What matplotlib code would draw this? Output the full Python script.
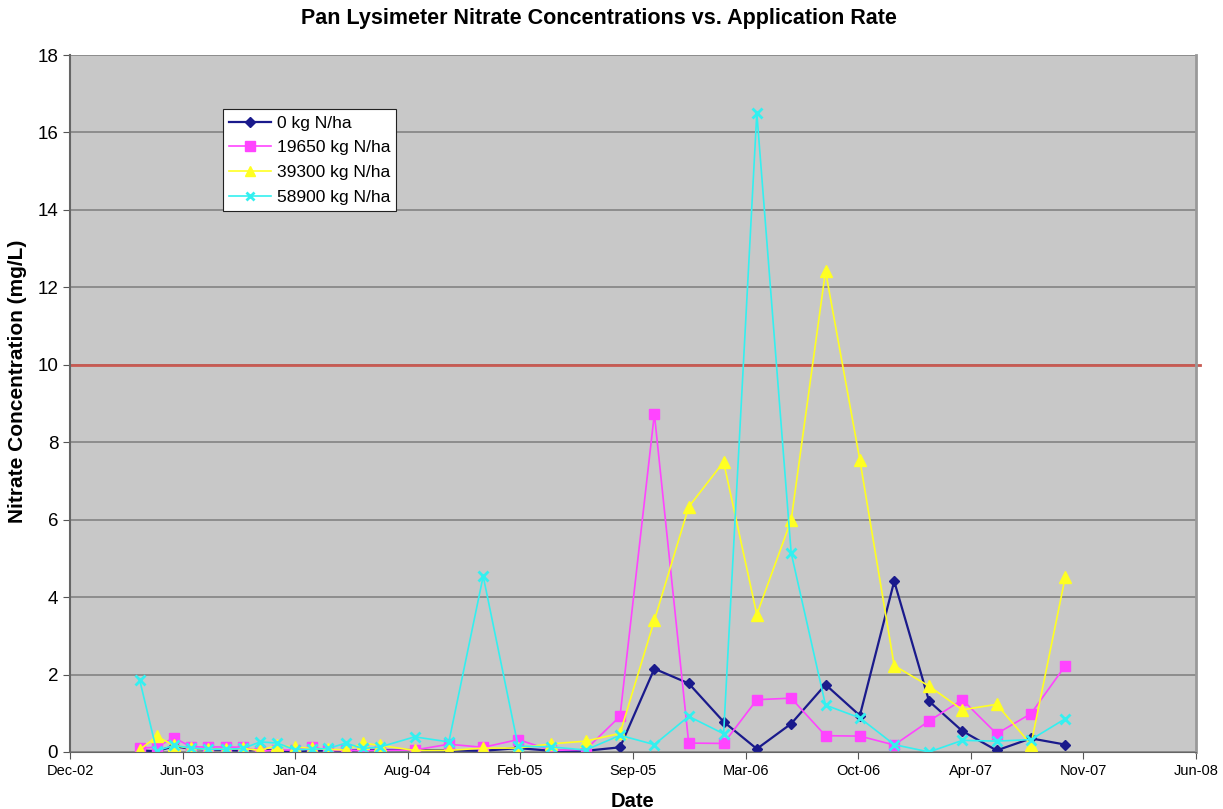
"""
Pan lysimeter nitrate concentrations vs. application rate
"""

import datetime as dt
import matplotlib
matplotlib.use('Agg')
import matplotlib.pyplot as plt
import matplotlib.dates as mdates

plt.rcParams['font.family'] = ['Liberation Sans', 'DejaVu Sans']

# sample months (mid-month): monthly Apr-03..Jun-04, then every 2 months Aug-04..Oct-07
months = ['2003-04', '2003-05', '2003-06', '2003-07', '2003-08', '2003-09', '2003-10',
          '2003-11', '2003-12', '2004-01', '2004-02', '2004-03', '2004-04', '2004-05',
          '2004-06', '2004-08', '2004-10', '2004-12', '2005-02', '2005-04', '2005-06',
          '2005-08', '2005-10', '2005-12', '2006-02', '2006-04', '2006-06', '2006-08',
          '2006-10', '2006-12', '2007-02', '2007-04', '2007-06', '2007-08', '2007-10']

rate_0 = [0.04, 0.02, 0.15, 0.08, 0.06, 0.05, 0.03, 0.06, 0.04, 0.0, 0.03, 0.04,
          0.03, 0.05, 0.05, 0.05, 0.04, 0.03, 0.1, 0.03, 0.03, 0.12, 2.15, 1.77,
          0.78, 0.08, 0.73, 1.74, 0.94, 4.41, 1.31, 0.54, 0.04, 0.35, 0.19]
rate_19650 = [0.09, 0.13, 0.37, 0.13, 0.13, 0.13, 0.12, 0.02, 0.05, 0.05, 0.13, 0.04,
              0.04, 0.04, 0.04, 0.05, 0.2, 0.12, 0.32, 0.04, 0.06, 0.92, 8.73, 0.23,
              0.22, 1.35, 1.39, 0.42, 0.41, 0.18, 0.8, 1.35, 0.47, 0.99, 2.23]
rate_39300 = [0.06, 0.4, 0.17, 0.09, 0.07, 0.07, 0.09, 0.04, 0.17, 0.13, 0.09, 0.07,
              0.05, 0.23, 0.17, 0.04, 0.04, 0.1, 0.1, 0.21, 0.28, 0.48, 3.4, 6.33,
              7.49, 3.55, 5.99, 12.42, 7.54, 2.23, 1.7, 1.09, 1.23, 0.19, 4.53]
rate_58900 = [1.85, 0.03, 0.17, 0.1, 0.07, 0.07, 0.09, 0.26, 0.23, 0.06, 0.07, 0.09,
              0.23, 0.09, 0.13, 0.39, 0.26, 4.54, 0.15, 0.13, 0.05, 0.43, 0.19, 0.92,
              0.47, 16.5, 5.14, 1.21, 0.88, 0.19, 0.0, 0.3, 0.28, 0.32, 0.86]

labels = ['0 kg N/ha', '19650 kg N/ha', '39300 kg N/ha', '58900 kg N/ha']
limit = 10  # drinking water standard

dates = [dt.datetime.strptime(m + '-15', '%Y-%m-%d') for m in months]
x_start = dt.datetime(2002, 12, 12)
x_ticks = [x_start + dt.timedelta(days=200 * i) for i in range(11)]

fig = plt.figure(figsize=(12.23, 8.09), dpi=100)
ax = fig.add_axes([0.0572, 0.0705, 0.9207, 0.8615])
ax.set_facecolor('#C8C8C8')

ax.axhline(limit, xmin=0, xmax=1.004, color='#C85A52', lw=2, clip_on=False, zorder=1.5)

ax.plot(dates, rate_0, color='#1A1A8C', marker='D', markersize=5.5, lw=1.6, label=labels[0])
ax.plot(dates, rate_19650, color='#FF44FF', marker='s', markersize=7.5, lw=1.2, label=labels[1])
ax.plot(dates, rate_39300, color='#FFFF22', marker='^', markersize=8.5, lw=1.2, label=labels[2])
ax.plot(dates, rate_58900, color='#33F0F0', marker='x', markersize=7, mew=2, lw=1.2, label=labels[3])

ax.set_xlim(x_ticks[0], x_ticks[-1])
ax.set_ylim(0, 18)
ax.set_yticks(range(0, 19, 2))
ax.set_xticks(x_ticks)
ax.xaxis.set_major_formatter(mdates.DateFormatter('%b-%y'))
ax.grid(True, axis='y', color='#888888', lw=1.3)
ax.set_axisbelow(True)
ax.tick_params(length=5, color='#555555')
ax.tick_params(axis='x', labelsize=10.5)
ax.tick_params(axis='y', labelsize=13.5)

ax.spines['top'].set_visible(False)
ax.spines['left'].set_color('#666666')
ax.spines['left'].set_linewidth(1.5)
ax.spines['bottom'].set_color('#666666')
ax.spines['right'].set_color('#999999')
ax.spines['right'].set_linewidth(2)

fig.text(0.49, 0.977, 'Pan Lysimeter Nitrate Concentrations vs. Application Rate',
         fontsize=15.5, fontweight='bold', ha='center', va='center')
ax.set_xlabel('Date', fontsize=14.5, fontweight='bold', labelpad=10)
ax.set_ylabel('Nitrate Concentration (mg/L)', fontsize=15, fontweight='bold')
ax.yaxis.set_label_coords(-0.038, 0.532)

leg = ax.legend(loc='upper left', bbox_to_anchor=(0.136, 0.922), borderaxespad=0,
                fontsize=12.5, fancybox=False, framealpha=1, edgecolor='#222222',
                handlelength=2.4, handletextpad=0.35, borderpad=0.35,
                labelspacing=0.55, markerscale=0.9)
leg.get_frame().set_linewidth(0.8)

fig.savefig('out.png', dpi=100)
plt.close()
